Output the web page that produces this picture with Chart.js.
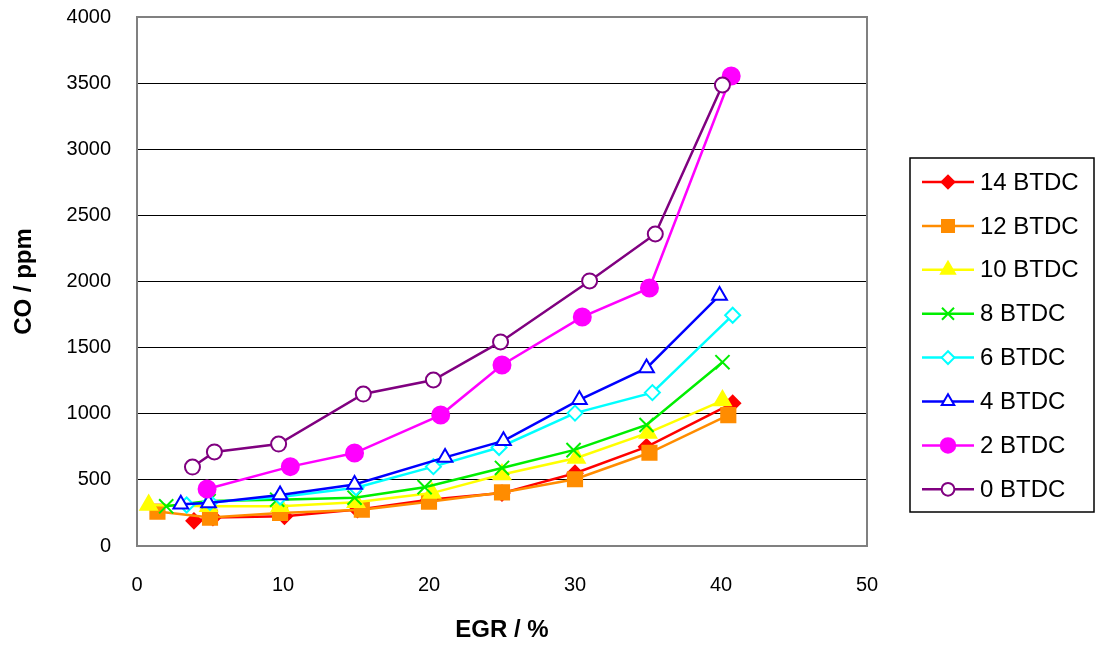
<!DOCTYPE html>
<html>
<head>
<meta charset="utf-8">
<script src="https://cdn.jsdelivr.net/npm/chart.js@4"></script>
<style>
  html, body { margin: 0; padding: 0; background: #fff; }
  #wrap { width: 1100px; height: 649px; }
</style>
</head>
<body>
<div id="wrap"><canvas id="co_chart" width="1100" height="649"></canvas></div>
<script>
// CO emissions vs EGR rate for each injection timing
var labels = ["14 BTDC", "12 BTDC", "10 BTDC", "8 BTDC", "6 BTDC", "4 BTDC", "2 BTDC", "0 BTDC"];

var egr14 = [3.9, 5.2, 10.1, 15.1, 20.0, 25.0, 30.0, 34.9, 40.8];
var co14  = [190, 215, 225, 275, 350, 400, 550, 750, 1080];

var egr12 = [1.4, 5.0, 9.8, 15.4, 20.0, 25.0, 30.0, 35.1, 40.5];
var co12  = [260, 215, 250, 275, 335, 405, 505, 705, 990];

var egr10 = [0.8, 4.9, 9.8, 15.0, 20.2, 25.0, 30.1, 35.0, 40.1];
var co10  = [310, 300, 300, 330, 400, 540, 665, 855, 1100];

var egr8 = [2.0, 4.9, 9.6, 14.9, 19.7, 25.0, 29.9, 34.9, 40.1];
var co8  = [300, 340, 350, 365, 445, 590, 725, 915, 1390];

var egr6 = [3.4, 5.0, 9.8, 15.0, 20.3, 24.8, 30.0, 35.3, 40.8];
var co6  = [310, 330, 370, 440, 600, 745, 1005, 1160, 1745];

var egr4 = [3.0, 4.9, 9.8, 14.9, 21.1, 25.1, 30.3, 34.9, 39.9];
var co4  = [315, 325, 385, 465, 670, 795, 1105, 1345, 1895];

var egr2 = [4.8, 10.5, 14.9, 20.8, 25.0, 30.5, 35.1, 40.7];
var co2  = [431, 600, 703, 990, 1369, 1732, 1951, 3554];

var egr0 = [3.8, 5.3, 9.7, 15.5, 20.3, 24.9, 31.0, 35.5, 40.1];
var co0  = [597, 711, 771, 1149, 1255, 1543, 2004, 2359, 3486];

var yTicks = [0, 500, 1000, 1500, 2000, 2500, 3000, 3500, 4000];
var xTicks = [0, 10, 20, 30, 40, 50];

function pts(xs, ys) {
  var out = [];
  for (var i = 0; i < xs.length; i++) out.push({ x: xs[i], y: ys[i] });
  return out;
}

// series styles: colour, marker, size, filled
var styles = [
  { c: "#FF0000", p: "rectRot", r: 7.5, fill: true },
  { c: "#FF8C00", p: "rect", r: 10, fill: true },
  { c: "#FFFF00", p: "triangle", r: 9.5, fill: true },
  { c: "#00EE00", p: "crossRot", r: 10, fill: false },
  { c: "#00FFFF", p: "rectRot", r: 7.5, fill: false },
  { c: "#0000FF", p: "triangle", r: 8.5, fill: false },
  { c: "#FF00FF", p: "circle", r: 8.5, fill: true },
  { c: "#800080", p: "circle", r: 7.5, fill: false }
];

var series = [
  pts(egr14, co14), pts(egr12, co12), pts(egr10, co10), pts(egr8, co8),
  pts(egr6, co6), pts(egr4, co4), pts(egr2, co2), pts(egr0, co0)
];

var datasets = series.map(function (d, i) {
  var s = styles[i];
  return {
    label: labels[i],
    data: d,
    showLine: true,
    borderColor: s.c,
    borderWidth: 2.5,
    pointStyle: s.p,
    pointRadius: s.r,
    pointHoverRadius: s.r,
    pointBackgroundColor: s.fill ? s.c : "#FFFFFF",
    pointBorderColor: s.c,
    pointBorderWidth: 2,
    order: -i
  };
});

// grey frame around the plot area
var framePlugin = {
  id: "frame",
  afterDraw: function (chart) {
    var a = chart.chartArea, ctx = chart.ctx;
    ctx.save();
    ctx.strokeStyle = "#808080";
    ctx.lineWidth = 2;
    ctx.strokeRect(a.left, a.top, a.right - a.left, a.bottom - a.top);
    ctx.restore();
  }
};

// boxed legend with line + marker samples
var legendBox = {
  id: "legendBox",
  afterDraw: function (chart) {
    var ctx = chart.ctx;
    ctx.save();
    ctx.fillStyle = "#FFFFFF";
    ctx.fillRect(910, 158, 184, 354);
    ctx.strokeStyle = "#000000";
    ctx.lineWidth = 1.5;
    ctx.strokeRect(910, 158, 184, 354);
    chart.data.datasets.forEach(function (ds, i) {
      var y = 182 + i * 43.9;
      ctx.strokeStyle = ds.borderColor;
      ctx.lineWidth = 2.5;
      ctx.beginPath();
      ctx.moveTo(922, y);
      ctx.lineTo(974, y);
      ctx.stroke();
      ctx.fillStyle = ds.pointBackgroundColor;
      ctx.strokeStyle = ds.pointBorderColor;
      ctx.lineWidth = 2;
      Chart.helpers.drawPoint(ctx, {
        pointStyle: ds.pointStyle,
        radius: ds.pointRadius * 0.85,
        rotation: 0,
        borderWidth: 2
      }, 948, y);
      ctx.fillStyle = "#000000";
      ctx.font = "24px Arial, 'Liberation Sans', sans-serif";
      ctx.textBaseline = "middle";
      ctx.textAlign = "left";
      ctx.fillText(ds.label, 980, y + 1);
    });
    ctx.restore();
  }
};

new Chart(document.getElementById("co_chart"), {
  type: "scatter",
  data: { datasets: datasets },
  options: {
    responsive: false,
    animation: false,
    layout: { padding: { top: 17, right: 233, left: 0, bottom: 0 } },
    plugins: { legend: { display: false }, tooltip: { enabled: false } },
    scales: {
      x: {
        type: "linear",
        min: 0,
        max: 50,
        afterBuildTicks: function (s) { s.ticks = xTicks.map(function (v) { return { value: v }; }); },
        afterFit: function (s) { s.height = 103; s.paddingLeft = 0; s.paddingRight = 0; },
        grid: { display: false, drawTicks: false },
        border: { display: false },
        ticks: {
          color: "#000",
          padding: 27,
          maxRotation: 0,
          font: { family: "Arial, 'Liberation Sans', sans-serif", size: 20 }
        },
        title: {
          display: true,
          text: "EGR / %",
          color: "#000",
          padding: { top: 20, bottom: 4 },
          font: { family: "Arial, 'Liberation Sans', sans-serif", size: 24, weight: "bold" }
        }
      },
      y: {
        type: "linear",
        min: 0,
        max: 4000,
        afterBuildTicks: function (s) { s.ticks = yTicks.map(function (v) { return { value: v }; }); },
        afterFit: function (s) { s.width = 137; s.paddingTop = 0; s.paddingBottom = 0; },
        grid: { color: "#000000", lineWidth: 1, drawTicks: false },
        border: { display: false },
        ticks: {
          color: "#000",
          padding: 26,
          callback: function (v) { return String(v); },
          font: { family: "Arial, 'Liberation Sans', sans-serif", size: 20 }
        },
        title: {
          display: true,
          text: "CO / ppm",
          color: "#000",
          padding: { top: 10, bottom: 0 },
          font: { family: "Arial, 'Liberation Sans', sans-serif", size: 24, weight: "bold" }
        }
      }
    }
  },
  plugins: [framePlugin, legendBox]
});
</script>
</body>
</html>
